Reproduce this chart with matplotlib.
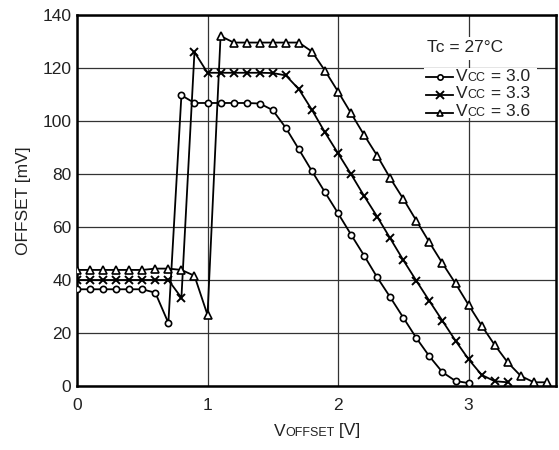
import matplotlib
matplotlib.use("Agg")
import matplotlib.pyplot as plt
from matplotlib.offsetbox import TextArea, HPacker, DrawingArea, AnnotationBbox
from matplotlib.lines import Line2D
from matplotlib.patches import Rectangle

plt.rcParams['font.family'] = ['Liberation Sans', 'DejaVu Sans']

x_30 = [0.0, 0.1, 0.2, 0.3, 0.4, 0.5, 0.6, 0.7, 0.8, 0.9, 1.0, 1.1, 1.2, 1.3, 1.4, 1.5,
        1.6, 1.7, 1.8, 1.9, 2.0, 2.1, 2.2, 2.3, 2.4, 2.5, 2.6, 2.7, 2.8, 2.9, 3.0]
y_30 = [36.5, 36.5, 36.5, 36.5, 36.5, 36.5, 35.2, 23.8, 109.7, 106.8, 106.8, 106.8, 106.8,
        106.8, 106.6, 104.1, 97.4, 89.3, 81.1, 73.1, 65.2, 57.1, 49.2, 41.0, 33.5, 25.8,
        18.1, 11.2, 5.2, 1.9, 1.1]

x_33 = [0.0, 0.1, 0.2, 0.3, 0.4, 0.5, 0.6, 0.7, 0.8, 0.9, 1.0, 1.1, 1.2, 1.3, 1.4, 1.5,
        1.6, 1.7, 1.8, 1.9, 2.0, 2.1, 2.2, 2.3, 2.4, 2.5, 2.6, 2.7, 2.8, 2.9, 3.0, 3.1,
        3.2, 3.3]
y_33 = [40.0, 40.0, 40.0, 40.0, 40.0, 40.0, 40.0, 40.0, 33.3, 126.0, 118.2, 118.2, 118.2,
        118.2, 118.2, 118.1, 117.2, 112.0, 104.2, 95.7, 87.8, 79.9, 71.7, 63.9, 55.7, 47.5,
        39.7, 32.1, 24.6, 17.1, 10.1, 4.2, 1.8, 1.4]

x_36 = [0.0, 0.1, 0.2, 0.3, 0.4, 0.5, 0.6, 0.7, 0.8, 0.9, 1.0, 1.1, 1.2, 1.3, 1.4, 1.5,
        1.6, 1.7, 1.8, 1.9, 2.0, 2.1, 2.2, 2.3, 2.4, 2.5, 2.6, 2.7, 2.8, 2.9, 3.0, 3.1,
        3.2, 3.3, 3.4, 3.5, 3.6]
y_36 = [43.8, 43.8, 43.8, 43.8, 43.8, 43.8, 44.3, 44.3, 43.8, 41.6, 26.8, 132.1, 129.6,
        129.6, 129.6, 129.6, 129.6, 129.6, 126.2, 119.0, 111.1, 102.9, 94.7, 86.9, 78.4,
        70.6, 62.4, 54.2, 46.3, 38.7, 30.6, 22.8, 15.5, 8.9, 3.8, 1.4, 1.4]

series_labels = ["3.0", "3.3", "3.6"]
x_ticks = [0, 1, 2, 3]
y_ticks = [0, 20, 40, 60, 80, 100, 120, 140]

W, H = 559, 450
def fx(px):
    return px / W
def fy(py):
    return 1 - py / H

FS = 12.5
FS_SMALL = 9.0
TXT = '#222222'

fig = plt.figure(figsize=(5.59, 4.5), dpi=100)
ax = fig.add_axes([fx(77), fy(386), (556 - 77) / W, (386 - 15) / H])

styles = [dict(marker='o', ms=4.5, mfc='white', mew=1.2),
          dict(marker='x', ms=6, mew=1.4),
          dict(marker='^', ms=5.5, mfc='white', mew=1.2)]
for xs, ys, st in zip([x_30, x_33, x_36], [y_30, y_33, y_36], styles):
    ax.plot(xs, ys, color='black', lw=1.3, mec='black', zorder=3, **st)

ax.set_xlim(0, 3.67)
ax.set_ylim(0, 140)
ax.set_xticks(x_ticks)
ax.set_yticks(y_ticks)
ax.tick_params(length=0, labelsize=FS, colors=TXT)
ax.tick_params(axis='x', pad=9)
ax.tick_params(axis='y', pad=4)
ax.grid(True, color='#333333', lw=0.9)
for s in ax.spines.values():
    s.set_linewidth(1.8)
    s.set_color('black')

ax.set_ylabel("OFFSET [mV]", fontsize=FS, color=TXT, labelpad=8)

def smallcaps(parts):
    boxes = [TextArea(t, textprops=dict(fontsize=fs, color=TXT)) for t, fs in parts]
    return HPacker(children=boxes, align='baseline', pad=0, sep=0)

# x label with small caps
xl = smallcaps([("V", FS), ("OFFSET", FS_SMALL), (" [V]", FS)])
ab = AnnotationBbox(xl, (fx(317), fy(431)), xycoords='figure fraction',
                    frameon=False, box_alignment=(0.5, 0.5))
fig.add_artist(ab)

# white backgrounds behind annotations
ax.add_patch(Rectangle((fx(424), fy(60)), (510 - 424) / W, (60 - 37) / H,
                       transform=fig.transFigure, facecolor='white', edgecolor='none', zorder=2.5))
ax.add_patch(Rectangle((fx(424), fy(118)), (537 - 424) / W, (118 - 68) / H,
                       transform=fig.transFigure, facecolor='white', edgecolor='none', zorder=2.5))

# Tc text
fig.text(fx(427), fy(48), "Tc = 27°C", fontsize=FS, color=TXT, va='center', ha='left', zorder=5)

# Legend rows
row_y = [77, 94.5, 112.5]
for lab, st, ry in zip(series_labels, styles, row_y):
    fig.add_artist(Line2D([fx(426.5), fx(453)], [fy(ry), fy(ry)], color='black', lw=1.3,
                          transform=fig.transFigure, zorder=5))
    st2 = dict(st)
    st2['ms'] = st2['ms'] * 0.85
    fig.add_artist(Line2D([fx(439.5)], [fy(ry)], color='black', mec='black',
                          transform=fig.transFigure, zorder=5, **st2))
    txt = smallcaps([("V", FS), ("CC", FS_SMALL), (" = " + lab, FS)])
    ab_r = AnnotationBbox(txt, (fx(456), fy(ry)), xycoords='figure fraction',
                          frameon=False, box_alignment=(0, 0.45), zorder=5)
    fig.add_artist(ab_r)

fig.savefig("out.png", dpi=100)
